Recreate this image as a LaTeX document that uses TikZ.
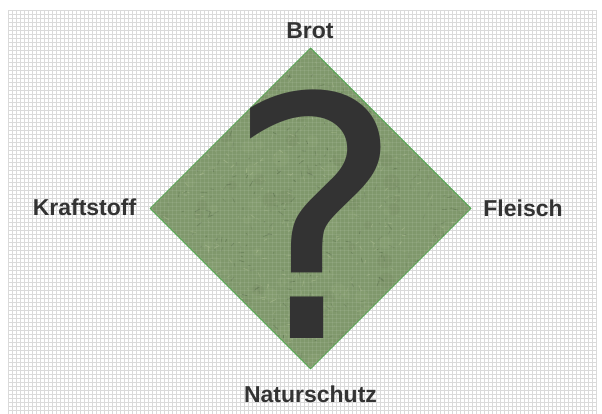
\documentclass[tikz,border=0pt]{standalone}
\usepackage{fontspec}
\setmainfont{Liberation Sans}
\newfontfamily\qfont{DejaVu Sans}
\definecolor{txt}{RGB}{51,51,51}
\definecolor{gridc}{RGB}{218,218,218}
\definecolor{grass}{RGB}{128,152,108}
\definecolor{grasslight}{RGB}{168,186,140}
\definecolor{grassdark}{RGB}{90,112,76}
\definecolor{edge}{RGB}{70,170,70}
\tikzset{
  lbl/.style={font=\fontsize{23}{23}\selectfont\bfseries, text=txt, inner sep=0pt, anchor=base},
}
\begin{document}
\begin{tikzpicture}[x=1pt,y=1pt]
\useasboundingbox (0,0) rectangle (602,414);
\fill[white] (0,0) rectangle (602,414);
% grid background
\foreach \gx in {8,12,...,596} \draw[gridc, line width=0.6pt] (\gx,0) -- (\gx,404);
\foreach \gy in {0,4,...,404} \draw[gridc, line width=0.6pt] (8,\gy) -- (596,\gy);
% diamond
\coordinate (T) at (310.5,366);
\coordinate (B) at (310.5,45);
\coordinate (L) at (150,205.5);
\coordinate (R) at (471,205.5);
\fill[grass] (T) -- (R) -- (B) -- (L) -- cycle;
\begin{scope}
\clip (T) -- (R) -- (B) -- (L) -- cycle;
\pgfmathsetseed{11}
\foreach \i in {1,...,160} {
  \pgfmathsetmacro\px{150+rnd*321}
  \pgfmathsetmacro\py{45+rnd*321}
  \pgfmathsetmacro\rr{3+rnd*6}
  \ifodd\i
    \fill[grasslight, opacity=0.12] (\px,\py) circle (\rr);
  \else
    \fill[grassdark, opacity=0.10] (\px,\py) circle (\rr);
  \fi
}
\foreach \i in {1,...,1100} {
  \pgfmathsetmacro\px{150+rnd*321}
  \pgfmathsetmacro\py{45+rnd*321}
  \pgfmathsetmacro\ang{rnd*180}
  \pgfmathsetmacro\len{1.5+rnd*5}
  \pgfmathsetmacro\op{0.2+rnd*0.4}
  \ifodd\i
    \draw[grasslight, opacity=\op, line width=0.8pt] (\px,\py) -- ++(\ang:\len);
  \else
    \draw[grassdark, opacity=\op, line width=0.8pt] (\px,\py) -- ++(\ang:\len);
  \fi
}
\foreach \gx in {152,156,...,470} \draw[white, opacity=0.08, line width=0.6pt] (\gx,45) -- (\gx,366);
\foreach \gy in {48,52,...,366} \draw[white, opacity=0.08, line width=0.6pt] (150,\gy) -- (471,\gy);
\end{scope}
\draw[edge, line width=0.7pt] (T) -- (R) -- (B) -- (L) -- cycle;
% question mark
\node[inner sep=0pt, anchor=base, text=txt, text depth=0pt, text height=24.4pt,
      font=\qfont\fontsize{33.5}{33.5}\selectfont, scale=10, transform shape] (q) at (315.5,75) {?};
% labels
\node[lbl] (brot) at (310,375) {Brot};
\node[lbl] (kraft) at (84.5,198) {Kraftstoff};
\node[lbl] (fleisch) at (523,197) {Fleisch};
\node[lbl] (natur) at (310.5,11) {Naturschutz};
\end{tikzpicture}
\end{document}
